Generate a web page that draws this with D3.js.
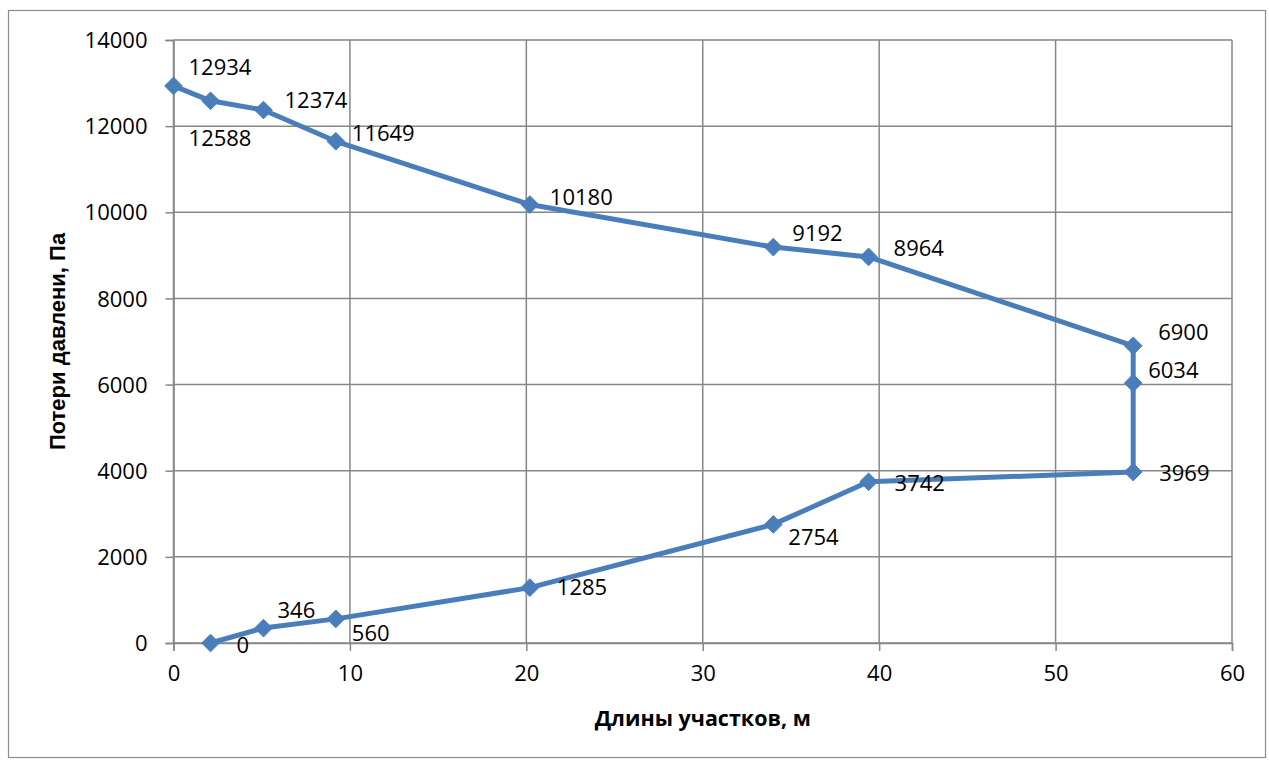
<!DOCTYPE html>
<html>
<head>
<meta charset="utf-8">
<script src="https://cdn.jsdelivr.net/npm/d3@7/dist/d3.min.js"></script>
<style>
  html, body { margin: 0; padding: 0; background: #fff; }
  svg { display: block; }
</style>
</head>
<body>
<svg id="chart" width="1269" height="760"></svg>
<script>
// Pressure losses along the pipeline sections (path order of the polyline)
const lengths = [2.1, 5.1, 9.2, 20.2, 34.0, 39.4, 54.4, 54.4, 54.4, 39.4, 34.0, 20.2, 9.2, 5.1, 2.1, 0];
const losses  = [0, 346, 560, 1285, 2754, 3742, 3969, 6034, 6900, 8964, 9192, 10180, 11649, 12374, 12588, 12934];

// Axis ticks
const xTicks = [0, 10, 20, 30, 40, 50, 60];
const yTicks = [0, 2000, 4000, 6000, 8000, 10000, 12000, 14000];

// Label placement relative to each marker (dx, dy in px)
const labelOffsets = [
  [26, 2], [14, -18], [16, 14], [27, 0], [15, 13], [26, 1], [26, 1], [15, -13],
  [25, -14], [25, -9], [19, -14], [20, -7], [16, -8], [21, -10], [-22, 37], [15, -19]
];

const xTitle = "Длины участков, м";
const yTitle = "Потери давлени, Па";

const svg = d3.select("#chart");
const plot = { left: 173.5, right: 1232, top: 40, bottom: 643 };

const x = d3.scaleLinear().domain([0, 60]).range([plot.left, plot.right]);
const y = d3.scaleLinear().domain([0, 14000]).range([plot.bottom, plot.top]);

const gridColor = "#878787";
const textFont = "'Open Sans', 'Noto Sans', sans-serif";

// Chart frame
svg.append("rect")
  .attr("x", 8.5).attr("y", 10.5)
  .attr("width", 1257).attr("height", 747)
  .attr("fill", "#fff").attr("stroke", "#8c8c8c").attr("stroke-width", 1.2);

// Grid
const grid = svg.append("g");
grid.selectAll(".hg").data(yTicks).join("line")
  .attr("x1", plot.left).attr("x2", plot.right)
  .attr("y1", d => y(d)).attr("y2", d => y(d))
  .attr("stroke", gridColor).attr("stroke-width", 1.5);
grid.selectAll(".vg").data(xTicks).join("line")
  .attr("x1", d => x(d)).attr("x2", d => x(d))
  .attr("y1", plot.top).attr("y2", plot.bottom)
  .attr("stroke", gridColor).attr("stroke-width", 1.5);

// Axes
const xAxis = svg.append("g")
  .attr("transform", `translate(0,${plot.bottom})`)
  .call(d3.axisBottom(x).tickValues(xTicks).tickSize(8).tickPadding(14).tickFormat(d3.format("d")));
const yAxis = svg.append("g")
  .attr("transform", `translate(${plot.left},0)`)
  .call(d3.axisLeft(y).tickValues(yTicks).tickSize(8).tickPadding(18).tickFormat(d3.format("d")));

[xAxis, yAxis].forEach(g => {
  g.select(".domain").attr("stroke", gridColor).attr("stroke-width", 1.5);
  g.selectAll(".tick line").attr("stroke", gridColor).attr("stroke-width", 1.5);
  g.selectAll(".tick text")
    .attr("fill", "#000")
    .style("font-family", textFont)
    .style("font-size", "22px");
});
xAxis.selectAll(".tick text").attr("dy", "0.71em");
yAxis.selectAll(".tick text").attr("dy", "0.35em");

// Series line
const points = lengths.map((v, i) => [v, losses[i]]);
svg.append("path")
  .datum(points)
  .attr("fill", "none")
  .attr("stroke", "#4a7ebb")
  .attr("stroke-width", 5)
  .attr("stroke-linejoin", "round")
  .attr("d", d3.line().x(d => x(d[0])).y(d => y(d[1])));

// Diamond markers
const diamond = d3.symbol().type(d3.symbolDiamond2).size(200);
svg.append("g").selectAll("path").data(points).join("path")
  .attr("d", diamond)
  .attr("transform", d => `translate(${x(d[0])},${y(d[1])})`)
  .attr("fill", "#4a7ebb")
  .attr("stroke", "#4a7ebb")
  .attr("stroke-width", 1);

// Data labels
svg.append("g").selectAll("text").data(points).join("text")
  .attr("x", (d, i) => x(d[0]) + labelOffsets[i][0])
  .attr("y", (d, i) => y(d[1]) + labelOffsets[i][1])
  .attr("dy", "0.35em")
  .style("font-family", textFont)
  .style("font-size", "22px")
  .attr("fill", "#000")
  .text(d => d[1]);

// Axis titles
svg.append("text")
  .attr("x", (plot.left + plot.right) / 2)
  .attr("y", 718)
  .attr("dy", "0.35em")
  .attr("text-anchor", "middle")
  .style("font-family", textFont)
  .style("font-weight", "bold")
  .style("font-size", "21.5px")
  .text(xTitle);

svg.append("text")
  .attr("transform", `translate(57,${(plot.top + plot.bottom) / 2}) rotate(-90)`)
  .attr("dy", "0.35em")
  .attr("text-anchor", "middle")
  .style("font-family", "'Liberation Sans', Arial, sans-serif")
  .style("font-weight", "bold")
  .style("font-size", "22px")
  .text(yTitle);
</script>
</body>
</html>
